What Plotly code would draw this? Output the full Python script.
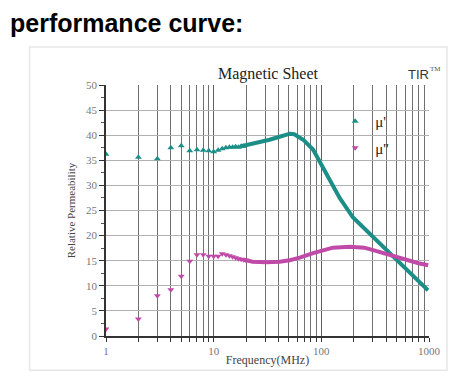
import plotly.graph_objects as go

# ---- data ----
mu1_pts_f = [1, 2, 3, 4, 5, 6, 7, 8, 9, 10, 11, 12, 13, 14, 15, 16, 17, 18, 19]
mu1_pts_v = [36.2, 35.6, 35.3, 37.5, 37.9, 36.9, 37.1, 37.0, 36.9, 36.7,
             37.0, 37.3, 37.5, 37.6, 37.6, 37.7, 37.6, 37.8, 37.8]
mu1_line_f = [18, 22, 27, 33, 41, 51, 56, 68, 84, 104, 120, 148, 197, 300, 403, 600, 980]
mu1_line_v = [37.8, 38.2, 38.6, 39.1, 39.7, 40.3, 40.2, 39.1, 37.1, 33.5, 31.1, 27.5,
              23.6, 19.8, 16.9, 13.3, 9.1]

mu2_pts_f = [1, 2, 3, 4, 5, 6, 7, 8, 9, 10, 11, 12, 13, 14, 15, 16, 17, 18, 19, 20]
mu2_pts_v = [1.4, 3.4, 8.0, 9.2, 11.9, 14.9, 16.2, 16.2, 15.9, 15.9, 15.9, 16.4, 16.2,
             16.0, 15.8, 15.6, 15.4, 15.3, 15.2, 15.1]
mu2_line_f = [19, 23, 31, 41, 51, 63, 84, 104, 128, 184, 250, 303, 430, 612, 800, 983]
mu2_line_v = [15.2, 14.8, 14.7, 14.8, 15.1, 15.6, 16.5, 17.1, 17.6, 17.8, 17.6, 17.1,
              16.2, 15.1, 14.5, 14.1]

x_major = [1, 10, 100, 1000]
x_labels = ["1", "10", "100", "1000"]
x_minor = [m * d for d in (1, 10, 100) for m in range(2, 10)]

TEAL = "#1b8f87"
MAG = "#c04aa8"
SERIF = "Liberation Serif, Times New Roman, serif"
SANS = "Liberation Sans, Arial, sans-serif"

fig = go.Figure()
fig.add_trace(go.Scatter(x=mu1_line_f, y=mu1_line_v, mode="lines",
                         line=dict(color=TEAL, width=4), showlegend=False, hoverinfo="skip"))
fig.add_trace(go.Scatter(x=mu2_line_f, y=mu2_line_v, mode="lines",
                         line=dict(color=MAG, width=4), showlegend=False, hoverinfo="skip"))
fig.add_trace(go.Scatter(x=mu1_pts_f, y=mu1_pts_v, mode="markers", name="μ'",
                         legendgroup="a",
                         marker=dict(symbol="triangle-up", size=6, color=TEAL)))
fig.add_trace(go.Scatter(x=mu2_pts_f, y=mu2_pts_v, mode="markers", name="μ''",
                         legendgroup="b",
                         marker=dict(symbol="triangle-down", size=6, color=MAG)))

OFF = 8  # page body margin
W, H = 459 - OFF, 379 - OFF
L = 105.5 - OFF
T = 85 - OFF
pw = 429 - 105.5
ph = 335.7 - 85
R = W - L - pw
B = H - T - ph


def px2x(px):
    return (px - OFF - L) / pw


def py2y(py):
    return (T + ph - (py - OFF)) / ph


fig.update_layout(
    width=W, height=H,
    margin=dict(l=L, r=R, t=T, b=B, pad=0),
    paper_bgcolor="white", plot_bgcolor="white",
    font=dict(family=SERIF, color="#333"),
    showlegend=True,
    legend=dict(x=px2x(335), y=py2y(105), xanchor="left", yanchor="top",
                bgcolor="rgba(0,0,0,0)", borderwidth=0, tracegroupgap=4,
                font=dict(family=SERIF, size=15, color="#222222"), itemwidth=30),
    xaxis=dict(type="log", range=[0, 3], tickmode="array", tickvals=x_major,
               ticktext=x_labels, showgrid=True, gridcolor="#5e5e5e", gridwidth=1,
               ticks="outside", ticklen=4, tickcolor="#333",
               showline=True, linecolor="#333", linewidth=1.5,
               tickfont=dict(family=SERIF, size=11, color="#777"),
               title=dict(text="Frequency(MHz)", standoff=0,
                          font=dict(family=SERIF, size=12, color="#444")),
               minor=dict(tickmode="array", tickvals=x_minor, showgrid=True,
                          gridcolor="#707070", gridwidth=1, ticks="outside",
                          ticklen=4, tickcolor="#333"),
               zeroline=False),
    yaxis=dict(range=[0, 50], tickmode="array", tickvals=list(range(0, 51, 5)),
               showgrid=True, gridcolor="#b0b0b0", gridwidth=1,
               ticks="outside", ticklen=5, tickcolor="#333",
               showline=True, linecolor="#333", linewidth=1.5,
               tickfont=dict(family=SERIF, size=11, color="#777"),
               title=dict(text="Relative Permeability", standoff=8,
                          font=dict(family=SERIF, size=11, color="#444")),
               minor=dict(dtick=2.5, ticks="outside", ticklen=3, tickcolor="#555",
                          showgrid=False),
               zeroline=False),
    shapes=[dict(type="rect", xref="paper", yref="paper",
                 x0=px2x(29), x1=px2x(447), y0=py2y(370), y1=py2y(47),
                 line=dict(color="#e6e6e6", width=1.5), layer="below")],
    annotations=[
        dict(text="<b>performance curve:</b>", xref="paper", yref="paper",
             x=px2x(8), y=py2y(8), xanchor="left", yanchor="top", showarrow=False,
             borderpad=0, font=dict(family=SANS, size=25, color="black")),
        dict(text="Magnetic Sheet", xref="paper", yref="paper",
             x=px2x(268), y=py2y(74), xanchor="center", yanchor="middle", showarrow=False,
             font=dict(family=SERIF, size=16, color="#222")),
        dict(text="TIR", xref="paper", yref="paper",
             x=px2x(406), y=py2y(75), xanchor="left", yanchor="middle", showarrow=False,
             font=dict(family=SANS, size=13, color="#333")),
        dict(text="TM", xref="paper", yref="paper",
             x=px2x(428), y=py2y(69), xanchor="left", yanchor="middle", showarrow=False,
             font=dict(family=SERIF, size=7, color="#555")),
    ],
)

fig.write_html("out.html")
